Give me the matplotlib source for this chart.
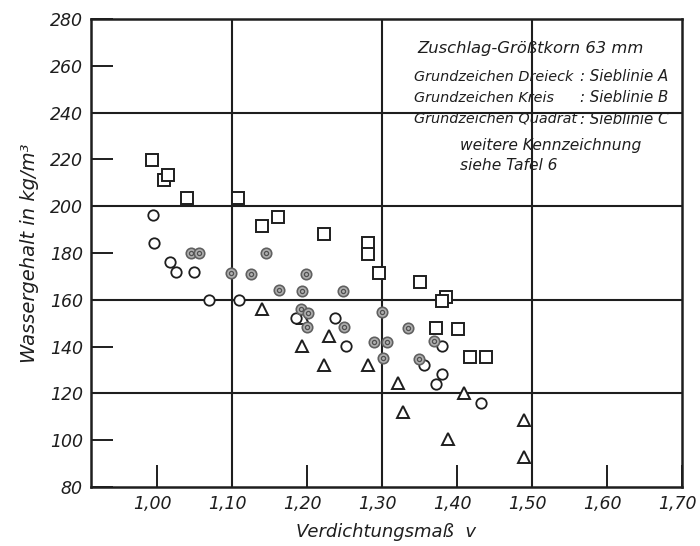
import matplotlib
matplotlib.use("Agg")
import matplotlib.pyplot as plt
import matplotlib.transforms as mtrans

# Sieblinie A (Dreieck)
tri_v = [1.140, 1.195, 1.230, 1.193, 1.223, 1.282, 1.321, 1.410, 1.328, 1.388, 1.490, 1.490]
tri_w = [156.0, 152.2, 144.4, 140.1, 132.0, 132.0, 124.3, 120.3, 112.2, 100.4, 108.5, 92.9]

# Sieblinie B (Kreis, offen)
circ_v = [0.995, 0.996, 1.017, 1.026, 1.049, 1.070, 1.109, 1.185, 1.237, 1.252, 1.380, 1.356, 1.380, 1.372, 1.432]
circ_w = [196.2, 184.1, 176.2, 171.9, 171.9, 160.0, 160.0, 152.3, 152.2, 140.1, 140.1, 132.0, 128.2, 124.0, 115.9]

# Sieblinie B (Kreis, mit weiterer Kennzeichnung)
circ2_v = [1.046, 1.056, 1.146, 1.099, 1.126, 1.163, 1.199, 1.193, 1.248, 1.192,
           1.201, 1.200, 1.250, 1.290, 1.300, 1.335, 1.307, 1.302, 1.370, 1.349]
circ2_w = [179.9, 179.9, 179.9, 171.6, 171.1, 164.3, 171.1, 163.7, 163.7, 156.0,
           154.3, 148.2, 148.4, 142.1, 154.6, 147.9, 142.1, 135.2, 142.4, 134.8]

# Sieblinie C (Quadrat)
sq_v = [0.994, 1.009, 1.015, 1.040, 1.108, 1.162, 1.140, 1.2225, 1.281, 1.282,
        1.296, 1.350, 1.385, 1.380, 1.372, 1.402, 1.418, 1.439]
sq_w = [219.6, 211.4, 213.2, 203.3, 203.5, 195.5, 191.5, 188.1, 184.1, 179.6,
        171.6, 167.8, 161.0, 159.6, 147.9, 147.7, 135.6, 135.6]

x_ticks = [1.00, 1.10, 1.20, 1.30, 1.40, 1.50, 1.60, 1.70]
x_labels = ["1,00", "1,10", "1,20", "1,30", "1,40", "1,50", "1,60", "1,70"]
y_ticks = [80, 100, 120, 140, 160, 180, 200, 220, 240, 260, 280]
x_grid = [1.10, 1.30, 1.50]
y_grid = [120, 160, 200, 240]

ink = "#1e1e1e"
plt.rcParams["font.family"] = ["DejaVu Sans"]
plt.rcParams["font.style"] = "italic"

fig = plt.figure(figsize=(7.0, 5.46), dpi=100)
fig.patch.set_facecolor("white")
ax = fig.add_axes([91/700, 1-487/546, (682-91)/700, (487-19)/546])

ax.set_xlim(0.912, 1.70)
ax.set_ylim(80, 280)

for gx in x_grid:
    ax.axvline(gx, color=ink, lw=1.5, zorder=1)
for gy in y_grid:
    ax.axhline(gy, color=ink, lw=1.5, zorder=1)

for s in ax.spines.values():
    s.set_linewidth(1.8)
    s.set_color(ink)

ax.set_xticks(x_ticks)
ax.set_xticklabels(x_labels)
ax.set_yticks(y_ticks)
ax.set_yticklabels([str(v) for v in y_ticks])
ax.tick_params(axis="both", direction="in", length=16, width=1.4, color=ink,
               labelsize=12.5, labelcolor=ink, pad=6)
offset = mtrans.ScaledTranslation(15/100, 0, fig.dpi_scale_trans)
for lab in ax.get_xticklabels():
    lab.set_horizontalalignment("right")
    lab.set_transform(lab.get_transform() + offset)

ax.plot(tri_v, tri_w, linestyle="none", marker="^", ms=8, mfc="white", mec=ink, mew=1.4, zorder=3)
ax.plot(circ_v, circ_w, linestyle="none", marker="o", ms=7.5, mfc="white", mec=ink, mew=1.3, zorder=3)
ax.plot(circ2_v, circ2_w, linestyle="none", marker="o", ms=7.5, mfc="#b0b0b0", mec="#606060", mew=1.2, zorder=3)
ax.plot(circ2_v, circ2_w, linestyle="none", marker="o", ms=3, mfc="none", mec="#505050", mew=0.9, zorder=4)
ax.plot(sq_v, sq_w, linestyle="none", marker="s", ms=8, mfc="white", mec=ink, mew=1.4, zorder=3)

ax.set_xlabel("Verdichtungsmaß  v", fontsize=13, color=ink, labelpad=7)
ax.set_ylabel("Wassergehalt in kg/m³", fontsize=14, color=ink, labelpad=8)

def ftext(x, y, s, fs, ha="left"):
    fig.text(x/700, 1-y/546, s, fontsize=fs, color=ink, ha=ha, va="center", style="italic")

ftext(531, 48, "Zuschlag-Größtkorn 63 mm", 11.8, ha="center")
ftext(414, 77, "Grundzeichen Dreieck", 10.4)
ftext(414, 98, "Grundzeichen Kreis", 10.4)
ftext(414, 119, "Grundzeichen Quadrat", 10.4)
ftext(580, 77, ": Sieblinie A", 10.8)
ftext(580, 98, ": Sieblinie B", 10.8)
ftext(580, 119, ": Sieblinie C", 10.8)
ftext(460, 146, "weitere Kennzeichnung", 11.2)
ftext(460, 166, "siehe Tafel 6", 11.2)

fig.savefig("out.png", dpi=100)
